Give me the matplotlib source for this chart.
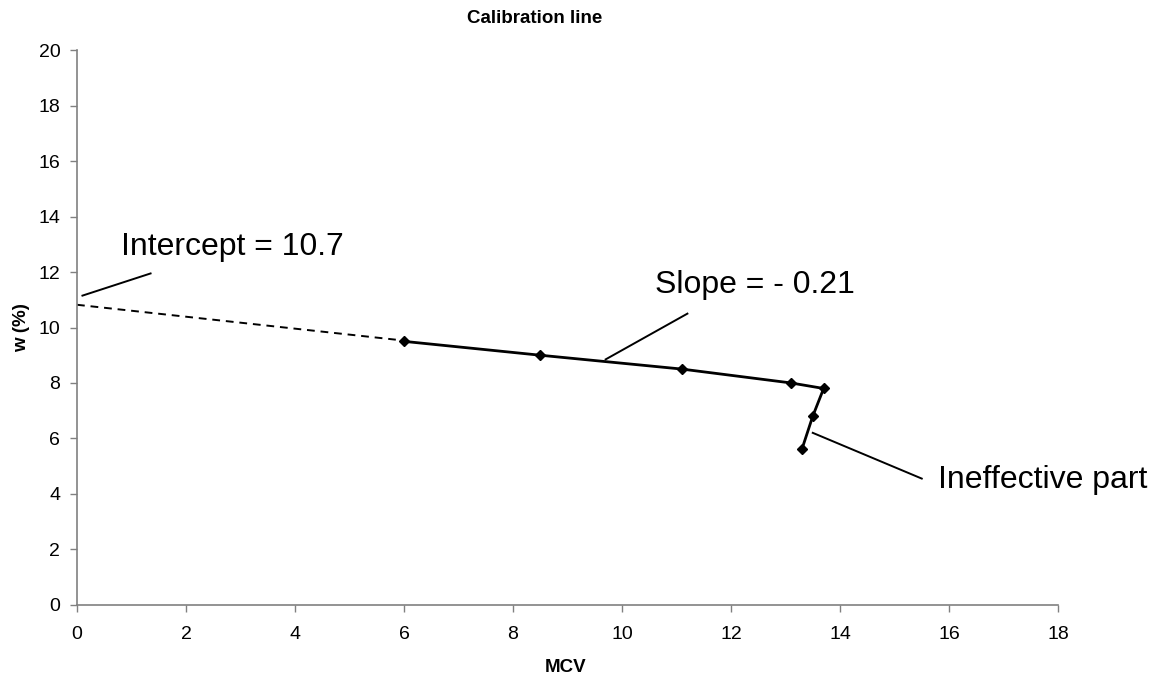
import numpy as np
import matplotlib
matplotlib.use('Agg')
import matplotlib.pyplot as plt

plt.rcParams['font.family'] = ['Liberation Sans', 'DejaVu Sans']

# measured points (MCV, w %)
mcv = [6.0, 8.5, 11.1, 13.1, 13.7, 13.5, 13.3]
w = [9.5, 9.0, 8.5, 8.0, 7.8, 6.8, 5.6]

# extrapolated part of the calibration line
ext_mcv = [0.0, 5.85]
ext_w = [10.82, 9.56]

x_ticks = list(range(0, 19, 2))
y_ticks = list(range(0, 21, 2))

fig = plt.figure(figsize=(11.6, 6.78), dpi=100)
ax = fig.add_axes([77 / 1160, 1 - 604.7 / 678, (1058 - 77) / 1160, (604.7 - 50.3) / 678])

ax.plot(ext_mcv, ext_w, color='black', lw=1.4, ls=(0, (4, 3)))
ax.plot(mcv, w, color='black', lw=2, marker='D', markersize=5)

ax.set_xlim(0, 18)
ax.set_ylim(0, 20)
ax.set_xticks(x_ticks)
ax.set_yticks(y_ticks)
ax.tick_params(direction='out', length=5, width=1, color='#808080',
               labelsize=14)
ax.tick_params(axis='x', pad=10)
ax.tick_params(axis='y', pad=7)
for side in ['top', 'right']:
    ax.spines[side].set_visible(False)
for side in ['left', 'bottom']:
    ax.spines[side].set_color('#808080')
    ax.spines[side].set_linewidth(1.2)

fig.text(535 / 1160, 1 - 18.5 / 678, 'Calibration line', fontsize=13.5,
         fontweight='bold', ha='center', va='center')
fig.text(566 / 1160, 1 - 667 / 678, 'MCV', fontsize=13.5,
         fontweight='bold', ha='center', va='center')
fig.text(21.5 / 1160, 1 - 328 / 678, 'w (%)', fontsize=13.5,
         fontweight='bold', ha='center', va='center', rotation=90)

# annotation leader lines
ax.plot([0.1, 1.35], [11.15, 11.95], color='black', lw=1.4, clip_on=False)
ax.plot([9.7, 11.2], [8.85, 10.5], color='black', lw=1.4)
ax.plot([13.5, 15.5], [6.2, 4.55], color='black', lw=1.4, clip_on=False)

ax.text(0.8, 12.9, 'Intercept = 10.7', fontsize=23, va='center', ha='left')
ax.text(10.6, 11.55, 'Slope = - 0.21', fontsize=23, va='center', ha='left')
ax.text(15.8, 4.5, 'Ineffective part', fontsize=23, va='center', ha='left',
        clip_on=False)

fig.savefig('out.png', dpi=100)
